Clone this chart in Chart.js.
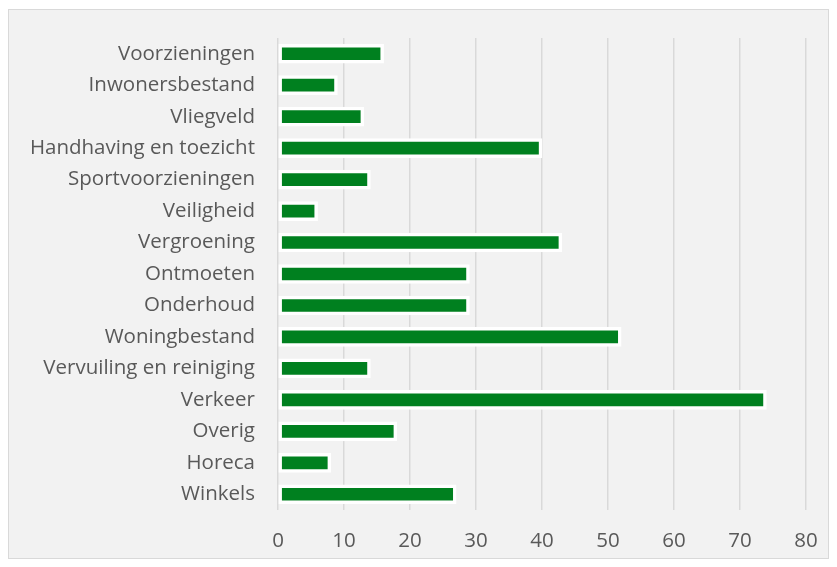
<!DOCTYPE html>
<html>
<head>
<meta charset="utf-8">
<script src="https://cdn.jsdelivr.net/npm/chart.js@4"></script>
<style>
    html, body { margin: 0; padding: 0; background: #ffffff; }
    #wrap { width: 837px; height: 567px; }
</style>
</head>
<body>
<div id="wrap"><canvas id="chart" width="837" height="567"></canvas></div>
<script>
    // Categorieën (van boven naar beneden)
    var categories = [
        'Voorzieningen', 'Inwonersbestand', 'Vliegveld', 'Handhaving en toezicht',
        'Sportvoorzieningen', 'Veiligheid', 'Vergroening', 'Ontmoeten', 'Onderhoud',
        'Woningbestand', 'Vervuiling en reiniging', 'Verkeer', 'Overig', 'Horeca', 'Winkels'
    ];
    var values = [16, 9, 13, 40, 14, 6, 43, 29, 29, 52, 14, 74, 18, 8, 27];
    var xTicks = [0, 10, 20, 30, 40, 50, 60, 70, 80];

    var labelColor = '#595959';
    var fontFamily = '"Open Sans", "Noto Sans", sans-serif';

    // Achtergrond en kader zoals in Excel
    var framePlugin = {
        id: 'frame',
        beforeDraw: function(chart) {
            var ctx = chart.ctx;
            ctx.save();
            ctx.fillStyle = '#ffffff';
            ctx.fillRect(0, 0, chart.width, chart.height);
            ctx.fillStyle = '#f2f2f2';
            ctx.fillRect(8, 9, 821, 550);
            ctx.strokeStyle = '#d9d9d9';
            ctx.lineWidth = 1;
            ctx.strokeRect(8.5, 9.5, 820, 549);
            ctx.restore();
        }
    };

    new Chart(document.getElementById('chart'), {
        type: 'bar',
        data: {
            labels: categories,
            datasets: [{
                data: values,
                backgroundColor: '#00801f',
                borderColor: '#ffffff',
                borderWidth: 3.5,
                borderSkipped: false,
                barThickness: 19
            }]
        },
        options: {
            indexAxis: 'y',
            responsive: false,
            animation: false,
            devicePixelRatio: 1,
            layout: { padding: { left: 0, top: 38, right: 31, bottom: 0 } },
            plugins: {
                legend: { display: false },
                tooltip: { enabled: false }
            },
            scales: {
                x: {
                    min: 0,
                    max: 80,
                    afterFit: function(scale) { scale.height = 57; },
                    afterBuildTicks: function(scale) {
                        scale.ticks = xTicks.map(function(v) { return { value: v }; });
                    },
                    grid: { color: '#d9d9d9', lineWidth: 1.5, drawTicks: false },
                    border: { display: false },
                    ticks: {
                        color: labelColor,
                        padding: 19,
                        font: { family: fontFamily, size: 20.5 }
                    }
                },
                y: {
                    afterFit: function(scale) { scale.width = 278; },
                    grid: { display: false, drawTicks: false },
                    border: { display: false },
                    ticks: {
                        color: labelColor,
                        padding: 23,
                        autoSkip: false,
                        font: { family: fontFamily, size: 20.5 }
                    }
                }
            }
        },
        plugins: [framePlugin]
    });
</script>
</body>
</html>
